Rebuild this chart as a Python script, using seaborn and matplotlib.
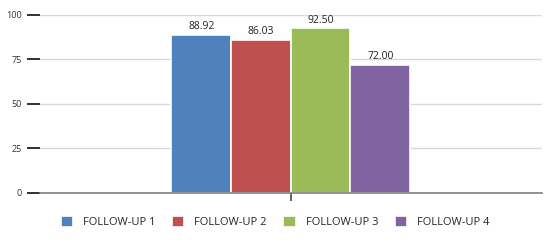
import pandas as pd
import seaborn as sns
import matplotlib.pyplot as plt

# data
series = ["FOLLOW-UP 1", "FOLLOW-UP 2", "FOLLOW-UP 3", "FOLLOW-UP 4"]
values = [88.92, 86.03, 92.50, 72.00]
colors = ["#4F81BD", "#C0504D", "#9BBB59", "#8064A2"]
y_ticks = [0, 25, 50, 75, 100]

df = pd.DataFrame({"group": [""] * len(series), "series": series, "value": values})

sns.set_style("white")
plt.rcParams["font.family"] = ["Open Sans", "DejaVu Sans"]

fig = plt.figure(figsize=(5.5, 2.4), dpi=100)
ax = fig.add_axes([0.0727, 0.196, 0.912, 0.7415])

b = sns.barplot(data=df, x="group", y="value", hue="series",
                palette=colors, saturation=1, width=0.476, edgecolor="white",
                linewidth=1.2, ax=ax, legend=True)

for c in ax.containers:
    ax.bar_label(c, fmt="%.2f", fontsize=7.5, color="#222222", padding=2)

ax.set_xlim(-0.5, 0.5)
ax.set_ylim(0, 100)
ax.set_yticks(y_ticks)
ax.set_xlabel("")
ax.set_ylabel("")
ax.set_xticks([0])
ax.set_xticklabels([""])
ax.yaxis.grid(True, color="#D9D9D9", linewidth=1)
ax.set_axisbelow(True)
for s in ["top", "right", "left"]:
    ax.spines[s].set_visible(False)
ax.spines["bottom"].set_color("#808080")
ax.spines["bottom"].set_linewidth(1.2)
ax.tick_params(axis="y", length=9.5, width=1.3, color="#222222",
               labelsize=6.5, labelcolor="#333333", pad=3.5, left=True)
ax.tick_params(axis="x", length=5.5, width=1.3, color="#555555", bottom=True)

ax.get_legend().remove()
handles, labels = ax.get_legend_handles_labels()
fig.legend(handles[:4], labels[:4], loc="center", bbox_to_anchor=(0.5, 0.075),
           ncol=4, frameon=False, fontsize=8, handlelength=1.1,
           handleheight=1.2, handletextpad=0.9, columnspacing=1.5)

fig.savefig("out.png", dpi=100)
